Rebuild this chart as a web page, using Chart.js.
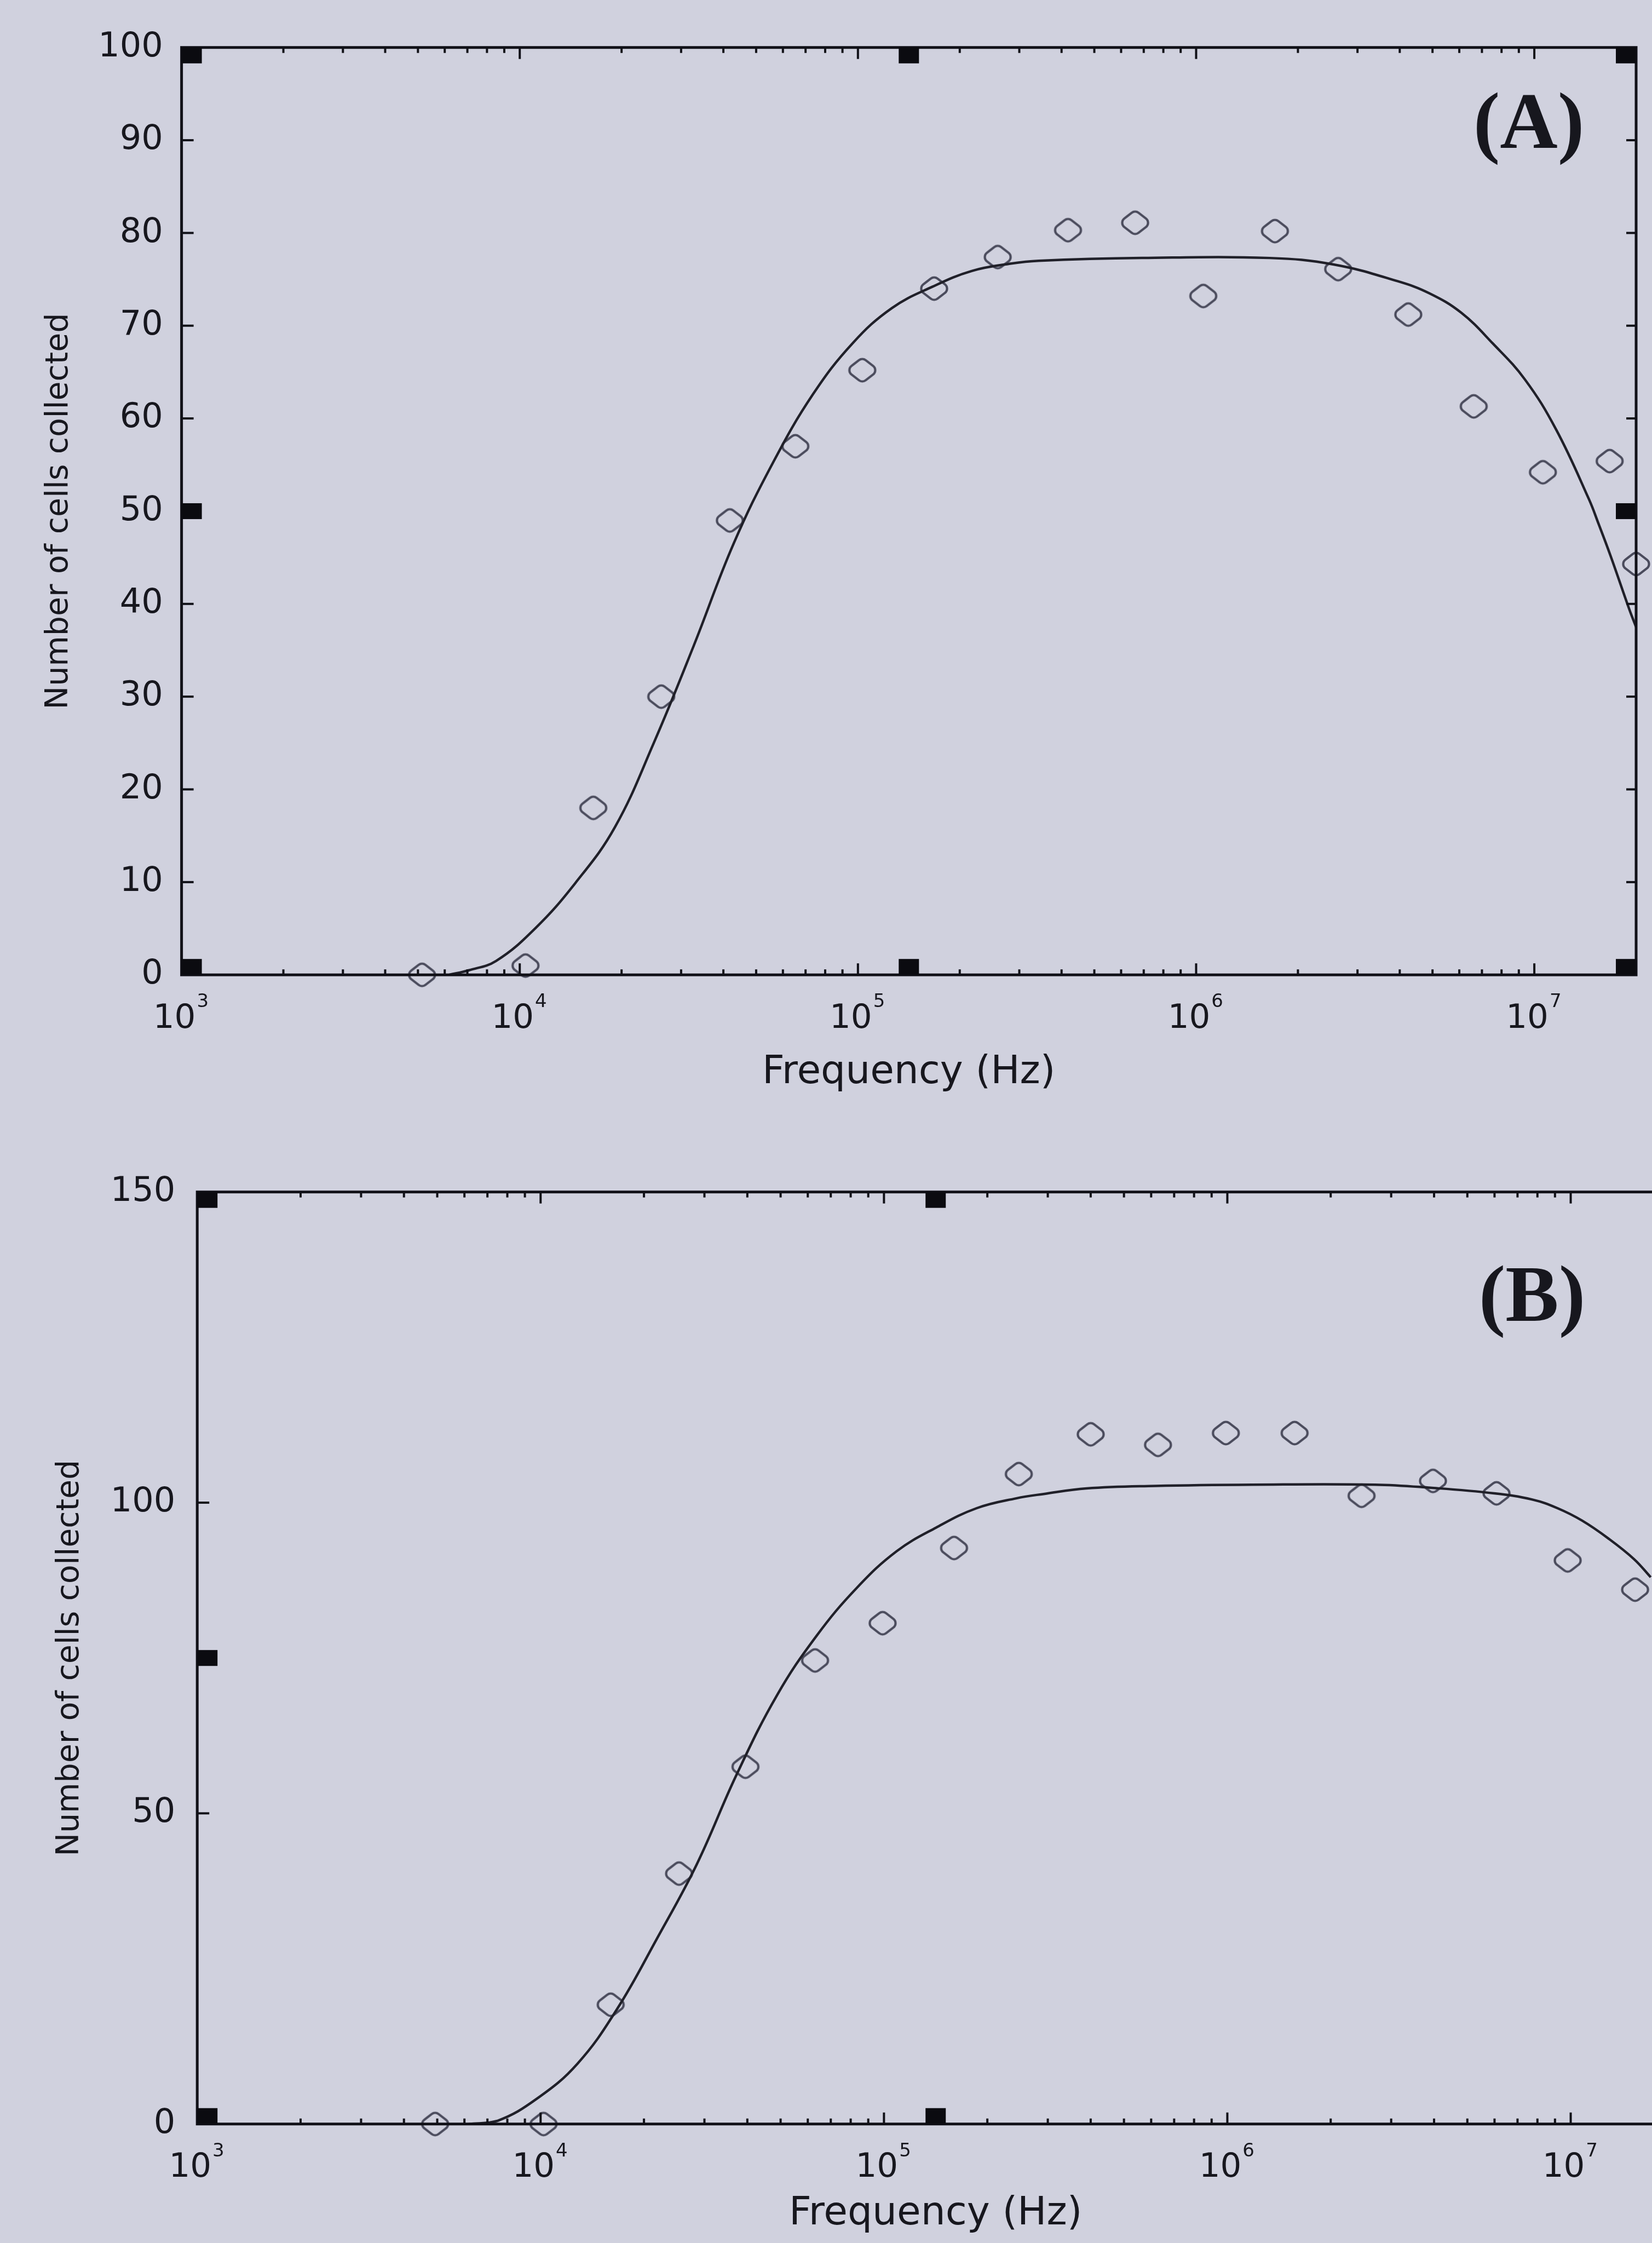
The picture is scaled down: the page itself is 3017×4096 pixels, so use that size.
<!DOCTYPE html>
<html>
<head>
<meta charset="utf-8">
<script src="https://cdn.jsdelivr.net/npm/chart.js@4/dist/chart.umd.min.js"></script>
<style>
html,body{margin:0;padding:0;background:#d0d1de;overflow:hidden;width:3017px;height:4096px}
canvas{position:absolute;left:0}
#chartA{top:0}
#chartB{top:2048px}
</style>
</head>
<body>
<canvas id="chartA" width="3017" height="2048"></canvas>
<canvas id="chartB" width="3100" height="2048"></canvas>
<script>
// panel A: measured points and fitted curve (Hz, number of cells)
const freqA = [5140, 10400, 16500, 26200, 41800, 65300, 103000, 168000, 259000, 418000, 660000, 1050000, 1710000, 2630000, 4240000, 6620000, 10600000, 16700000, 20000000]
const cellsA = [0, 1, 18, 30, 49, 57, 65.2, 74, 77.4, 80.3, 81.1, 73.2, 80.2, 76.1, 71.2, 61.3, 54.2, 55.4, 44.3]
const fitFreqA = [6170, 7080, 8510, 11100, 14600, 19100, 24900, 32700, 42900, 56200, 73600, 96400, 126000, 166000, 217000, 284000, 342000, 692000, 1650000, 2550000, 3940000, 4890000, 6080000, 7530000, 9380000, 11600000, 14500000, 15500000, 16800000, 19100000, 20000000]
const fitCellsA = [0, 0.5, 1.5, 5.0, 9.9, 15.9, 25, 35.5, 46.5, 55.3, 62.6, 68.1, 71.9, 74.2, 75.9, 76.7, 77.0, 77.3, 77.3, 76.6, 74.8, 73.5, 71.4, 68.1, 64.2, 58.8, 51.3, 48.6, 45.2, 39.4, 37.5]

// panel B
const freqB = [4930, 10200, 16000, 25300, 39500, 63000, 99100, 160000, 247000, 400000, 628000, 990000, 1570000, 2460000, 3970000, 6080000, 9800000, 15400000, 20000000]
const cellsB = [0, 0, 19.2, 40.3, 57.5, 74.6, 80.6, 92.7, 104.6, 111, 109.3, 111.2, 111.2, 101.1, 103.5, 101.5, 90.7, 86, 76.5]
const fitFreqB = [6170, 7480, 9770, 12800, 16700, 21800, 28500, 37200, 48800, 63700, 83400, 109000, 142000, 186000, 243000, 292000, 389000, 617000, 1180000, 2690000, 3900000, 5980000, 7730000, 9160000, 10800000, 12900000, 15300000, 17100000]
const fitCellsB = [0, 0.5, 4.1, 9.7, 18.5, 29.8, 41.8, 56.2, 69.0, 78.6, 86.3, 92.2, 96.0, 99.1, 100.7, 101.4, 102.3, 102.7, 102.9, 102.9, 102.4, 101.5, 100.5, 99.1, 97.1, 94.2, 90.9, 88.0]

// x tick labels: 10 with exponent
const decades = [1e3, 1e4, 1e5, 1e6, 1e7]
const exponents = ['3', '4', '5', '6', '7']

const ink = '#17171e'
const sans = '"DejaVu Sans", "Liberation Sans", sans-serif'

// open rounded diamond used as marker
function diamond(){
const w = 60, h = 46, lw = 4.2, r = 10
const c = document.createElement('canvas')
c.width = 68
c.height = 56
const g = c.getContext('2d')
const cx = c.width / 2, cy = c.height / 2
const L = [cx - w / 2, cy], T = [cx, cy - h / 2], R = [cx + w / 2, cy], B = [cx, cy + h / 2]
g.beginPath()
g.moveTo((L[0] + T[0]) / 2, (L[1] + T[1]) / 2)
g.arcTo(T[0], T[1], R[0], R[1], r)
g.arcTo(R[0], R[1], B[0], B[1], r)
g.arcTo(B[0], B[1], L[0], L[1], r)
g.arcTo(L[0], L[1], T[0], T[1], r)
g.closePath()
g.strokeStyle = '#4a4b5c'
g.lineWidth = lw
g.stroke()
return c
}
const marker = diamond()

// frame, inward ticks, corner squares, exponents and panel letter
const framePlugin = {
id: 'frame',
afterDraw(chart, args, o){
const ctx = chart.ctx
const a = chart.chartArea
const x = chart.scales.x, y = chart.scales.y
const line = (x1, y1, x2, y2) => { ctx.beginPath(); ctx.moveTo(x1, y1); ctx.lineTo(x2, y2); ctx.stroke() }
ctx.save()
ctx.strokeStyle = '#111118'
ctx.lineWidth = 5
ctx.strokeRect(a.left, a.top, a.right - a.left, a.bottom - a.top)

ctx.lineWidth = 4
y.ticks.forEach(t => {
if (t.value <= y.min || t.value >= y.max) return
const py = y.getPixelForValue(t.value)
line(a.left, py, a.left + 22, py)
line(a.right, py, a.right - 18, py)
})
for (let e = 3; e <= 7; e++) {
for (let m = 1; m <= 9; m++) {
const v = m * Math.pow(10, e)
if (v <= x.min || v >= x.max) continue
const px = x.getPixelForValue(v)
const len = m === 1 ? 21 : 10
line(px, a.bottom, px, a.bottom - len)
line(px, a.top, px, a.top + len)
}
}

// small filled squares at corners and mid points of the frame
ctx.fillStyle = '#0b0b10'
const sw = 37, sh = 29
const midY = y.getPixelForValue((y.min + y.max) / 2)
const midX = x.getPixelForValue(Math.sqrt(x.min * x.max))
;[a.top, midY - sh / 2, a.bottom - sh].forEach(py => {
ctx.fillRect(a.left, py, sw, sh)
ctx.fillRect(a.right - sw, py, sw, sh)
})
ctx.fillRect(midX - sw / 2, a.top, sw, sh)
ctx.fillRect(midX - sw / 2, a.bottom - sh, sw, sh)

// exponents of the 10^n labels
ctx.fillStyle = ink
ctx.font = '61px ' + sans
const half = ctx.measureText('10').width / 2
ctx.font = '34px ' + sans
ctx.textAlign = 'left'
ctx.textBaseline = 'alphabetic'
decades.forEach((d, i) => {
const px = x.getPixelForValue(d) - 13 + half + 2
ctx.fillText(exponents[i], px, a.bottom + 59)
})

ctx.font = 'bold 146px "Liberation Serif", "DejaVu Serif", serif'
ctx.textAlign = 'center'
ctx.textBaseline = 'middle'
ctx.fillText(o.label, o.labelX, o.labelY)
ctx.restore()
}
}

function panel(id, freq, cells, fitFreq, fitCells, yMax, yStep, o){
return new Chart(document.getElementById(id), {
type: 'scatter',
data: {
datasets: [
{
data: fitFreq.map((f, i) => ({x: f, y: fitCells[i]})),
showLine: true,
borderColor: '#202029',
borderWidth: 4.5,
pointRadius: 0,
tension: 0.4,
fill: false
},
{
data: freq.map((f, i) => ({x: f, y: cells[i]})),
showLine: false,
pointStyle: marker,
pointRadius: 28,
clip: false
}
]
},
options: {
responsive: false,
animation: false,
devicePixelRatio: 1,
events: [],
layout: {padding: {left: 0, top: o.top, right: o.right, bottom: o.bottom}},
plugins: {
legend: {display: false},
tooltip: {enabled: false},
frame: {label: o.label, labelX: o.labelX, labelY: o.labelY}
},
scales: {
x: {
type: 'logarithmic',
min: 1000,
max: 20000000,
grid: {display: false, drawTicks: false},
border: {display: false},
afterBuildTicks: s => { s.ticks = decades.map(v => ({value: v})) },
afterFit: s => { s.height = o.xAxisH; s.paddingLeft = 0; s.paddingRight = 0 },
ticks: {
autoSkip: false,
maxRotation: 0,
padding: 44,
labelOffset: -13,
color: ink,
font: {family: sans, size: 61},
callback: () => '10'
},
title: {display: true, text: 'Frequency (Hz)', color: ink, font: {family: sans, size: 71}, padding: 0}
},
y: {
min: 0,
max: yMax,
grid: {display: false, drawTicks: false},
border: {display: false},
afterFit: s => { s.width = o.left; s.paddingTop = 0; s.paddingBottom = 0 },
ticks: {stepSize: yStep, padding: o.yPad, color: ink, font: {family: sans, size: 62}},
title: {display: true, text: 'Number of cells collected', color: ink, font: {family: sans, size: 57}, padding: {top: o.yTitlePad, bottom: 0}}
}
}
},
plugins: [framePlugin]
})
}

panel('chartA', freqA, cellsA, fitFreqA, fitCellsA, 100, 10, {
left: 331.6, top: 86.7, right: 12.2, bottom: 46.2, xAxisH: 221.6, yPad: 34, yTitlePad: 73.5,
label: '(A)', labelX: 2792, labelY: 232
})

panel('chartB', freqB, cellsB, fitFreqB, fitCellsB, 150, 50, {
left: 360.2, top: 128.7, right: 42.7, bottom: 9.7, xAxisH: 207.6, yPad: 40, yTitlePad: 94.4,
label: '(B)', labelX: 2798, labelY: 326
})
</script>
</body>
</html>
